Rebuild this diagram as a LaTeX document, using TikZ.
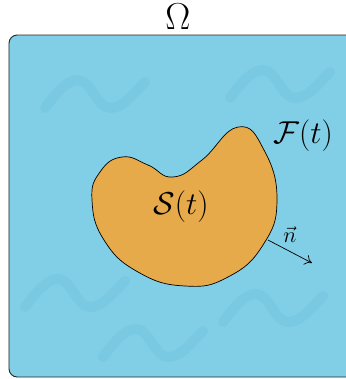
\documentclass[tikz,border=0pt]{standalone}
\usepackage{fix-cm}
\usepackage{amsmath}
\usepackage{tikz}
\usetikzlibrary{arrows.meta,positioning}
\usepackage{xcolor}
\definecolor{fluid}{RGB}{128,207,230}
\definecolor{wavecol}{RGB}{121,201,226}
\definecolor{solid}{RGB}{230,170,75}
\tikzset{
  domainbox/.style={draw=black!85, fill=fluid, line width=0.8pt, rounded corners=7},
  wave/.style={draw=wavecol, line width=8.5pt, line cap=round, line join=round},
  body/.style={draw=black, fill=solid, line width=0.6pt},
  biglabel/.style={font=\fontsize{27}{31}\selectfont, inner sep=0pt},
  omegalabel/.style={font=\fontsize{32}{36}\selectfont, inner sep=0pt},
  smalllabel/.style={font=\fontsize{19}{22}\selectfont, inner sep=0pt},
  normalarrow/.style={-{To[length=6pt,width=9pt]}, line width=0.6pt}
}

\begin{document}
\begin{tikzpicture}[x=0.03cm, y=-0.03cm]
\useasboundingbox (0,0) rectangle (346,379);
\clip (0,0) rectangle (346,379);
\draw[domainbox] (9,35) rectangle (370,377);
% background waves
\foreach \sx/\sy in {45/108, 230/98, 25/307, 223/322, 103/357}
  \draw[wave, shift={(\sx,\sy)}] (0,0) .. controls (12,-16) and (22,-28) .. (33,-28)
    .. controls (46,-28) and (52,0) .. (65,0)
    .. controls (78,0) and (88,-14) .. (100,-26);
% the solid body
\draw[body] plot[smooth cycle, tension=0.8] coordinates {
  (238,127) (264,150) (277,200) (263,245) (228,277) (185,286)
  (138,272) (104,240) (92,200) (100,172) (122,157) (148,165)
  (173,177) (202,160)};
\node[omegalabel] (omega) at (178,17) {$\Omega$};
\node[biglabel] (front) at (303,136) {$\mathcal{F}(t)$};
\node[biglabel] (solidlbl) at (181,207) {$\mathcal{S}(t)$};
\coordinate (nbase) at (268,240);
\coordinate (ntip) at (312,263);
\draw[normalarrow] (nbase) -- (ntip);
\node[smalllabel] (normal) at (290,235) {$\vec{n}$};
\end{tikzpicture}
\end{document}
